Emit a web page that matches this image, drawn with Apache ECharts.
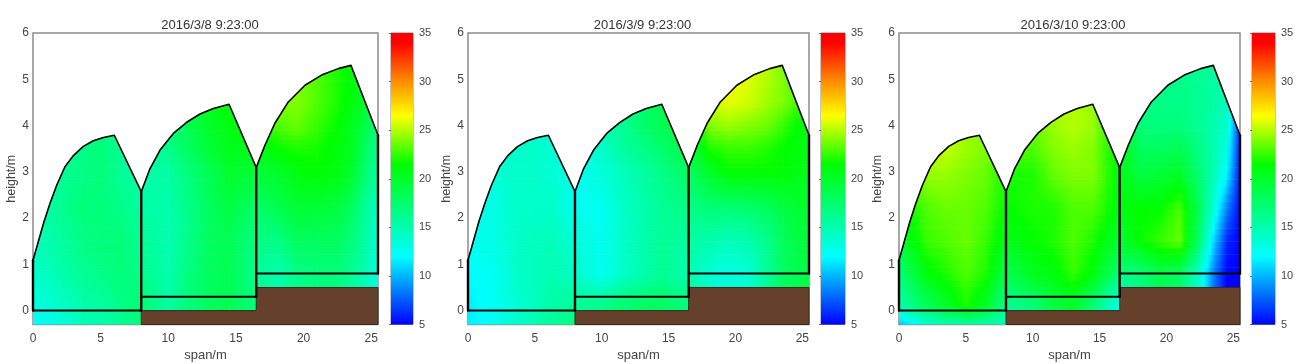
<!DOCTYPE html>
<html>
<head>
<meta charset="utf-8">
<title>greenhouse temperature</title>
<style>
html, body { margin: 0; padding: 0; background: #fff; }
#main { width: 1307px; height: 364px; }
</style>
<script src="https://cdn.jsdelivr.net/npm/echarts@6/dist/echarts.min.js"></script>
</head>
<body>
<div id="main"></div>
<script>
var titles = ['2016/3/8 9:23:00', '2016/3/9 9:23:00', '2016/3/10 9:23:00'];
var xTicks = [0, 5, 10, 15, 20, 25];
var yTicks = [0, 1, 2, 3, 4, 5, 6];
var barTicks = [5, 10, 15, 20, 25, 30, 35];

// sample positions of the temperature field
var spanX = [0, 2, 3.5, 5, 6.5, 8, 10, 11.5, 13, 14.5, 16.5, 18, 19.5, 21, 22.5, 23.5, 24.5, 25.5];
var heightY = [-0.3, 0.1, 0.8, 1.5, 2.2, 3, 3.5, 4, 4.5, 5.3];

// temperature, bottom row first
var temp0308 = [
    [12, 13, 14.5, 15, 16, 17, 16, 17, 18, 18, 17, 15, 16, 16.5, 16, 15, 14, 12.5],
    [13, 14, 15, 15.5, 16.5, 17.5, 15.5, 17, 18, 18.5, 17, 15, 16, 16.5, 16, 15, 14, 12.5],
    [14, 15, 16, 16.5, 17, 16.5, 15, 17, 18, 18.5, 16, 15, 16.5, 17, 17, 16, 15, 13],
    [14.5, 15.5, 16.5, 17, 17, 16, 15, 16.5, 18, 18.5, 16.5, 16.5, 18, 18, 18, 17, 15.5, 13.5],
    [15, 16, 17, 17, 16.5, 15.5, 15, 16.5, 18, 19, 17.5, 18.5, 19.5, 19.5, 19, 18, 16, 14],
    [15, 16, 16.5, 17, 16, 15, 15.5, 17, 18.5, 20, 19.5, 20, 21, 21.5, 21, 20, 17.5, 15.5],
    [15, 16, 16.5, 17, 16, 15, 16.5, 18, 19.5, 20.5, 20.5, 21.5, 22, 21.8, 21, 20.5, 18, 16],
    [15, 16, 16.5, 17, 16, 15, 17, 18.5, 20, 21, 21, 23, 23.5, 22.5, 21.5, 20.5, 19, 16.5],
    [15, 16, 16.5, 17, 16, 15, 17, 19, 20.5, 21.5, 21.5, 24, 24, 23, 22, 21, 20, 17],
    [15, 16, 16.5, 17, 16, 15, 17, 19, 20.5, 21.5, 21.5, 24, 24, 23, 22, 21.5, 20, 17]
];
var temp0309 = [
    [11.5, 12.5, 14, 15, 16, 17, 17, 17.5, 18, 18, 17, 15, 14.5, 14.5, 16.5, 18, 18.5, 19],
    [11.5, 12.5, 13.5, 14.5, 15.5, 16, 16.5, 17.5, 18, 18, 17, 15, 14.5, 14.5, 16.5, 18, 18.5, 19],
    [12, 12.5, 14, 14.5, 15, 14, 12.5, 14, 15, 16, 15, 13.5, 13, 13.5, 16, 18, 18.5, 19],
    [12.5, 13, 14, 14.5, 14.5, 13.5, 12.5, 14, 15, 16, 15.5, 15, 14.5, 15, 16.5, 18, 19, 19.5],
    [12.5, 13, 14, 14, 14, 12.5, 12.5, 14, 15, 16, 16.5, 17, 17, 17.5, 18, 19, 19.5, 20],
    [13, 13.5, 14, 14, 13.5, 12.5, 13.5, 14.5, 15.5, 16.5, 18, 20, 21.5, 21.5, 21.5, 21.5, 21, 20.5],
    [13, 13.5, 14, 14, 13.5, 13, 14, 15.5, 16.5, 17.5, 19, 22, 22.5, 22.5, 22, 21.5, 21, 21],
    [13, 13.5, 14, 14, 13.5, 13, 15, 16, 17.5, 18.5, 19.5, 24, 24.5, 24, 23.5, 22.5, 21.5, 21],
    [13, 13.5, 14, 14, 13.5, 13, 15, 16, 17.5, 18.5, 19.5, 25.5, 26, 25.5, 24.5, 24, 23, 22],
    [13, 13.5, 14, 14, 13.5, 13, 15, 16, 17.5, 18.5, 19.5, 26, 26.5, 26, 25, 24, 23.5, 22]
];
var temp0310 = [
    [10, 13.5, 14.5, 15, 15, 14.5, 17, 19, 20, 17, 12.5, 16, 17, 17, 13.5, 8, 5, 5],
    [15, 18, 20, 22, 20, 16, 17, 19, 20, 17, 12.5, 16, 17, 17, 13.5, 8, 5, 5],
    [17, 21, 22, 23, 22, 18.5, 20.5, 21, 22.5, 21, 17, 17, 19, 18, 13.5, 8.5, 5, 5],
    [19.5, 22.5, 23, 23.5, 22.5, 20.5, 21.5, 22, 23, 22, 19.5, 21.5, 22.5, 23.5, 17, 11, 6, 5],
    [21, 23, 23.5, 23.5, 23, 21.5, 22, 22, 23, 23, 21, 21.5, 21.5, 23, 18, 13.5, 8.5, 5],
    [23, 24.5, 24.5, 24, 23.5, 22, 22, 23.5, 24, 24, 21, 19, 19.5, 20, 17, 15, 12, 5.2],
    [24, 25, 25.3, 24.5, 24, 23, 23, 24, 24.5, 24, 21, 18, 18, 18.5, 16.5, 15, 13, 5.5],
    [24, 25.3, 25.3, 24.5, 24, 23, 23.5, 24.5, 25, 24.5, 21, 17, 17, 17, 16, 15, 14, 6],
    [24, 25.3, 25.3, 24.5, 24, 23, 23.5, 24.5, 25, 24.5, 21, 16.5, 16.5, 16.5, 16, 15.5, 14.5, 8],
    [24, 25.3, 25.3, 24.5, 24, 23, 23.5, 24.5, 25, 24.5, 21, 16.5, 16.5, 16.5, 16, 15.5, 14.5, 8]
];
var allTemps = [temp0308, temp0309, temp0310];

// greenhouse outlines
var roof1 = [[0, 1.09], [0.39, 1.49], [0.81, 1.92], [1.26, 2.32], [1.75, 2.71], [2.36, 3.11], [2.98, 3.35], [3.72, 3.55], [4.46, 3.67], [5.2, 3.74], [6.01, 3.79], [8, 2.57]];
var roof2 = [[8, 2.57], [8.65, 3.07], [9.39, 3.47], [10.37, 3.83], [11.36, 4.07], [12.34, 4.25], [13.33, 4.37], [14.49, 4.46], [16.5, 3.09]];
var roof3 = [[16.5, 3.09], [17.15, 3.58], [17.88, 4.05], [18.87, 4.51], [20.1, 4.87], [21.33, 5.09], [22.56, 5.23], [23.5, 5.3], [25.5, 3.79]];
var walls = [
    [[0, 0], [0, 1.09]],
    [[8, 0], [8, 2.57]],
    [[16.5, 0.3], [16.5, 3.09]],
    [[25.5, 0.8], [25.5, 3.79]]
];
var floors = [
    [[0, 0], [8, 0]],
    [[8, 0.3], [16.5, 0.3]],
    [[16.5, 0.8], [25.5, 0.8]]
];
var soil = [[8, -0.3], [8, 0], [16.5, 0], [16.5, 0.5], [25.5, 0.5], [25.5, -0.3]];
var fieldEdge = [[0, -0.3]].concat(roof1, roof2, roof3, [[25.5, -0.3]]);

// colour bar
var mapValues = [5, 12, 16.75, 21.5, 24, 26.5, 30, 34, 35];
var mapColors = [[0, 0, 255], [0, 255, 255], [0, 255, 128], [0, 255, 0], [128, 255, 0], [255, 255, 0], [255, 140, 0], [255, 0, 0], [255, 0, 0]];

// pixel layout of the three panels
var panels = [
    { left: 33, right: 378, barLeft: 391, barRight: 413, nameGap: 10, titleX: 205 },
    { left: 468, right: 809, barLeft: 821, barRight: 845, nameGap: 13, titleX: 637.5 },
    { left: 899, right: 1240, barLeft: 1252, barRight: 1275, nameGap: 13, titleX: 1068 }
];
var plotTop = 33;
var plotBottom = 324.5;
var textColor = '#444';
var frameColor = '#8c8c8c';

function tempColor(v) {
    var i = 0;
    if (v <= mapValues[0]) {
        i = 0;
    } else {
        while (i < mapValues.length - 2 && v > mapValues[i + 1]) {
            i++;
        }
    }
    var t = (v - mapValues[i]) / (mapValues[i + 1] - mapValues[i]);
    t = Math.max(0, Math.min(1, t));
    var a = mapColors[i];
    var b = mapColors[i + 1];
    return 'rgb(' + Math.round(a[0] + (b[0] - a[0]) * t) + ',' + Math.round(a[1] + (b[1] - a[1]) * t) + ',' + Math.round(a[2] + (b[2] - a[2]) * t) + ')';
}

// one row per cell: x0, x1, y0, y1, then the four corner temperatures
function buildCells(temps) {
    var cells = [];
    for (var r = 0; r < heightY.length - 1; r++) {
        for (var c = 0; c < spanX.length - 1; c++) {
            cells.push([spanX[c], spanX[c + 1], heightY[r], heightY[r + 1], temps[r][c], temps[r][c + 1], temps[r + 1][c], temps[r + 1][c + 1]]);
        }
    }
    return cells;
}

function renderCell(params, api) {
    var x0 = api.value(0), x1 = api.value(1), y0 = api.value(2), y1 = api.value(3);
    var v00 = api.value(4), v10 = api.value(5), v01 = api.value(6), v11 = api.value(7);
    var px0 = api.coord([x0, y0])[0];
    var px1 = api.coord([x1, y0])[0];
    var clip = [];
    for (var i = 0; i < fieldEdge.length; i++) {
        clip.push(api.coord(fieldEdge[i]));
    }
    var strips = [];
    var n = 5;
    for (var s = 0; s < n; s++) {
        var t = (s + 0.5) / n;
        var left = v00 + (v01 - v00) * t;
        var right = v10 + (v11 - v10) * t;
        var stops = [];
        for (var k = 0; k <= 4; k++) {
            stops.push({ offset: k / 4, color: tempColor(left + (right - left) * k / 4) });
        }
        var pyTop = api.coord([x0, y0 + (y1 - y0) * (s + 1) / n])[1];
        var pyBot = api.coord([x0, y0 + (y1 - y0) * s / n])[1];
        strips.push({
            type: 'rect',
            shape: { x: px0, y: pyTop, width: px1 - px0 + 0.6, height: pyBot - pyTop + 0.6 },
            style: { fill: { type: 'linear', x: 0, y: 0, x2: 1, y2: 0, colorStops: stops } }
        });
    }
    return {
        type: 'group',
        clipPath: { type: 'polygon', shape: { points: clip } },
        children: strips
    };
}

function renderSoil(params, api) {
    var pts = [];
    for (var i = 0; i < soil.length; i++) {
        pts.push(api.coord(soil[i]));
    }
    return {
        type: 'polygon',
        shape: { points: pts },
        style: { fill: '#65402a', stroke: '#3a2a1e', lineWidth: 1 }
    };
}

function renderBar(params, api) {
    var a = api.coord([0, 35]);
    var b = api.coord([1, 5]);
    var stops = [];
    for (var i = mapValues.length - 1; i >= 0; i--) {
        stops.push({ offset: (35 - mapValues[i]) / 30, color: tempColor(mapValues[i]) });
    }
    return {
        type: 'rect',
        shape: { x: a[0], y: a[1], width: b[0] - a[0], height: b[1] - a[1] },
        style: { fill: { type: 'linear', x: 0, y: 0, x2: 0, y2: 1, colorStops: stops } }
    };
}

function outlineSeries(axisIndex, points, width) {
    return {
        type: 'line', xAxisIndex: axisIndex, yAxisIndex: axisIndex, z: 4, silent: true,
        clip: false, showSymbol: false, symbol: 'none',
        lineStyle: { color: '#000', width: width, join: 'round', cap: 'round' },
        data: points
    };
}

var option = {
    animation: false,
    backgroundColor: '#fff',
    textStyle: { fontFamily: 'Liberation Sans' },
    title: [],
    grid: [],
    xAxis: [],
    yAxis: [],
    series: []
};

for (var p = 0; p < panels.length; p++) {
    var pn = panels[p];
    var mainIndex = option.grid.length;
    var barIndex = mainIndex + 1;

    option.title.push({
        text: titles[p],
        left: pn.titleX,
        top: 14,
        textAlign: 'center',
        textStyle: { fontSize: 13, fontWeight: 'normal', color: '#333', fontFamily: 'Liberation Sans' }
    });

    option.grid.push({
        left: pn.left, top: plotTop, width: pn.right - pn.left, height: plotBottom - plotTop,
        outerBoundsMode: 'none',
        show: true, borderColor: frameColor, borderWidth: 1.5, backgroundColor: '#fff'
    });
    option.grid.push({
        left: pn.barLeft, top: plotTop, width: pn.barRight - pn.barLeft, height: plotBottom - plotTop,
        outerBoundsMode: 'none',
        show: true, borderColor: frameColor, borderWidth: 1
    });

    option.xAxis.push({
        gridIndex: mainIndex, type: 'value', min: 0, max: 25.5,
        name: 'span/m', nameLocation: 'middle', nameGap: 23,
        nameTextStyle: { fontSize: 13, color: textColor },
        axisLine: { show: false },
        axisTick: { show: false, customValues: xTicks },
        splitLine: { show: false },
        axisLabel: { customValues: xTicks, fontSize: 12, color: textColor, margin: 8 }
    });
    option.yAxis.push({
        gridIndex: mainIndex, type: 'value', min: -0.3, max: 6,
        name: 'height/m', nameLocation: 'middle', nameGap: pn.nameGap,
        nameTextStyle: { fontSize: 12.5, color: textColor },
        axisLine: { show: false },
        axisTick: { show: false, customValues: yTicks },
        splitLine: { show: false },
        axisLabel: { customValues: yTicks, fontSize: 12, color: textColor, margin: 4, padding: [2, 0, 0, 0] }
    });
    option.xAxis.push({
        gridIndex: barIndex, type: 'value', min: 0, max: 1, show: false
    });
    option.yAxis.push({
        gridIndex: barIndex, type: 'value', min: 5, max: 35, interval: 5, position: 'right',
        axisLine: { show: false },
        axisTick: { show: true, inside: true, length: 2, lineStyle: { color: '#666' } },
        splitLine: { show: false },
        axisLabel: { customValues: barTicks, fontSize: 11, color: textColor, margin: 6, padding: [2, 0, 0, 0] }
    });

    option.series.push({
        type: 'custom', xAxisIndex: mainIndex, yAxisIndex: mainIndex, z: 2, silent: true,
        renderItem: renderCell,
        data: buildCells(allTemps[p])
    });
    option.series.push({
        type: 'custom', xAxisIndex: mainIndex, yAxisIndex: mainIndex, z: 3, silent: true,
        renderItem: renderSoil,
        data: [[0]]
    });
    option.series.push(outlineSeries(mainIndex, roof1, 1.6));
    option.series.push(outlineSeries(mainIndex, roof2, 1.6));
    option.series.push(outlineSeries(mainIndex, roof3, 1.6));
    for (var w = 0; w < walls.length; w++) {
        option.series.push(outlineSeries(mainIndex, walls[w], 2.4));
    }
    for (var f = 0; f < floors.length; f++) {
        option.series.push(outlineSeries(mainIndex, floors[f], 2));
    }
    option.series.push({
        type: 'custom', xAxisIndex: barIndex, yAxisIndex: barIndex, z: 2, silent: true,
        renderItem: renderBar,
        data: [[0]]
    });
}

var myChart = echarts.init(document.getElementById('main'), null, { renderer: 'canvas' });
myChart.setOption(option);
</script>
</body>
</html>
